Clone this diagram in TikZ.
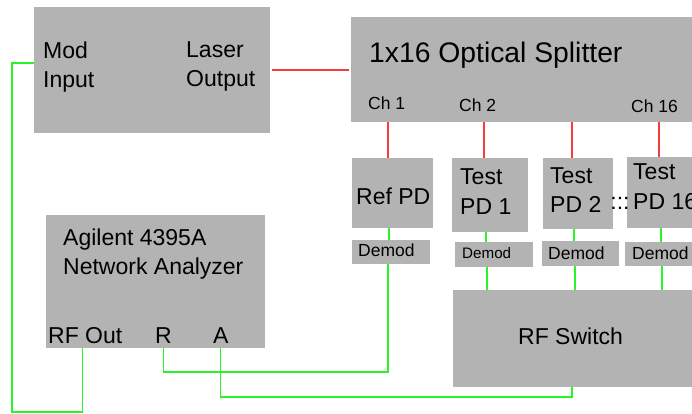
\documentclass[tikz,border=0pt]{standalone}
\usepackage{fontspec}
\setmainfont{Liberation Sans}
\definecolor{boxgray}{RGB}{179,179,179}
\definecolor{fibrered}{RGB}{245,60,60}
\definecolor{coaxgreen}{RGB}{40,245,40}
\tikzset{
  unit/.style={fill=boxgray, inner sep=0pt, outer sep=0pt, anchor=north west},
  txt/.style={inner sep=0pt, anchor=north west, align=left, font=\fontsize{23}{29}\selectfont},
  lab/.style={inner sep=0pt, anchor=base west, font=\fontsize{23}{29}\selectfont},
  small/.style={inner sep=0pt, anchor=base west, font=\fontsize{17.5}{21}\selectfont},
  fibre/.style={draw=fibrered, line width=1.2pt},
  coax/.style={draw=coaxgreen, line width=1.2pt},
}

\begin{document}
\begin{tikzpicture}[x=1pt,y=1pt,yscale=-1,xscale=1]
\useasboundingbox (0,0) rectangle (692,414);
\clip (0,0) rectangle (692,414);

%Boxes
\node[unit, minimum width=236pt, minimum height=126pt] (laser) at (34,7) {};
\node[unit, minimum width=360pt, minimum height=105pt] (splitter) at (351,17) {};
\node[unit, minimum width=219pt, minimum height=133pt] (na) at (46,215) {};
\node[unit, minimum width=81pt, minimum height=70pt] (refpd) at (352,158) {};
\node[unit, minimum width=76pt, minimum height=74pt] (pd1) at (452,158) {};
\node[unit, minimum width=70pt, minimum height=71pt] (pd2) at (543,158) {};
\node[unit, minimum width=80pt, minimum height=71pt] (pd16) at (627,157) {};
\node[unit, minimum width=78pt, minimum height=24pt] (refdm) at (352,240) {};
\node[unit, minimum width=78pt, minimum height=25pt] (dm1) at (455,242) {};
\node[unit, minimum width=77pt, minimum height=25pt] (dm2) at (542,241) {};
\node[unit, minimum width=80pt, minimum height=24pt] (dm16) at (625,242) {};
\node[unit, minimum width=260pt, minimum height=97pt] (rfsw) at (453,290) {};

%Text
\node[txt] (modin) at (43,41.5) {Mod\\Input};
\node[txt] (laserout) at (186,41.5) {Laser\\Output};
\node[lab, font=\fontsize{28.3}{34}\selectfont] (title) at (369,63) {1x16 Optical Splitter};
\node[small] (ch1) at (368,110) {Ch 1};
\node[small] (ch2) at (459,112) {Ch 2};
\node[small] (ch16) at (631,113) {Ch 16};
\node[lab] (reflab) at (356,204) {Ref PD};
\node[txt, font=\fontsize{23}{30}\selectfont] (pd1lab) at (460,168.5) {Test\\PD 1};
\node[txt, font=\fontsize{23}{29}\selectfont] (pd2lab) at (550,167.5) {Test\\PD 2};
\node[txt, font=\fontsize{23}{30}\selectfont] (pd16lab) at (633,163.5) {Test\\PD 16};
\node[lab, anchor=base] (dots) at (620,209) {:::};
\node[small] (refdmlab) at (358,256) {Demod};
\node[small, font=\fontsize{15.2}{18}\selectfont] (dm1lab) at (462,258) {Demod};
\node[small] (dm2lab) at (548,259) {Demod};
\node[small] (dm16lab) at (632,259) {Demod};
\node[txt] (natext) at (63,228.5) {Agilent 4395A\\Network Analyzer};
\node[lab] (rfout) at (48,343) {RF Out};
\node[lab] (rport) at (155,343) {R};
\node[lab] (aport) at (213,343) {A};
\node[lab] (rfswlab) at (518,344) {RF Switch};

%Optical fibres
\draw[fibre] ([xshift=2]laser.east) -- ([xshift=-2]laser.east -| splitter.west);
\foreach \x/\pd in {388/refpd,484/pd1,572/pd2,659/pd16}
  \draw[fibre] (\x,0 |- splitter.south) -- (\x,0 |- \pd.north);

%RF cables
\foreach \x/\pd/\dm in {389/refpd/refdm,486/pd1/dm1,574/pd2/dm2,661/pd16/dm16}
  \draw[coax] (\x,0 |- \pd.south) -- (\x,0 |- \dm.north);
\foreach \x/\dm in {487/dm1,575/dm2,662/dm16}
  \draw[coax] (\x,0 |- \dm.south) -- (\x,0 |- rfsw.north);
\draw[coax] (388,0 |- refdm.south) |- (rport.south |- 0,372) -- (rport |- na.south);
\draw[coax] (aport |- na.south) |- (572,397) -- (572,0 |- rfsw.south);
\draw[coax] ([xshift=-2.5]rfout.center |- na.south) -- ([xshift=-2.5]rfout.center |- 0,412) -| (12,63) -- (laser.west |- 0,63);

\end{tikzpicture}
\end{document}
